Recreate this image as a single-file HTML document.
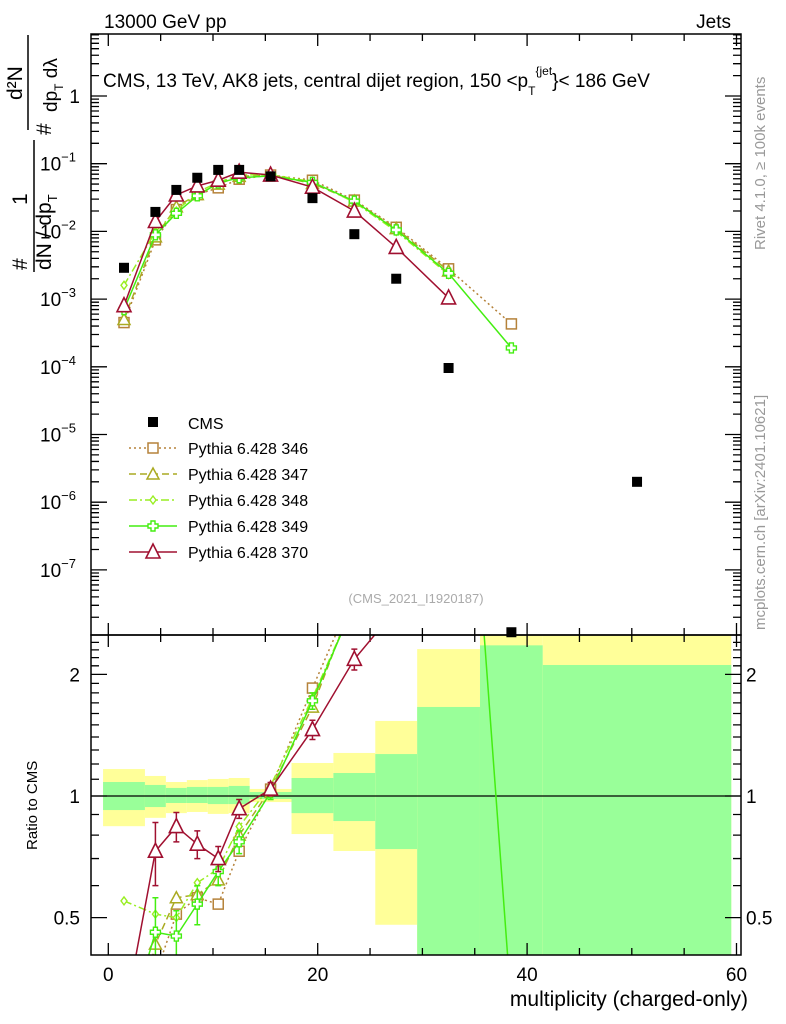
<!DOCTYPE html>
<html><head><meta charset="utf-8">
<style>
html,body{margin:0;padding:0;background:#fff;width:786px;height:1024px;overflow:hidden;}
svg{display:block;font-family:"Liberation Sans",sans-serif;overflow:hidden;}
</style></head>
<body>
<svg id="chart" width="786" height="1024" viewBox="0 0 786 1024" xmlns="http://www.w3.org/2000/svg">
  <defs>
    <clipPath id="clipMain"><rect x="91" y="34" width="650" height="601"/></clipPath>
    <clipPath id="clipRatio"><rect x="91" y="635" width="650" height="320"/></clipPath>
  </defs>
  <g id="bands" clip-path="url(#clipRatio)"></g>
  <g id="ticks"></g>
  <line x1="91" y1="796" x2="741" y2="796" stroke="#000" stroke-width="1.3"/>
  <g id="mainMarks"></g>
  <g id="ratioMarks" clip-path="url(#clipRatio)"></g>
  <rect x="91" y="34" width="650" height="601" fill="none" stroke="#000" stroke-width="1.5"/>
  <rect x="91" y="635" width="650" height="320" fill="none" stroke="#000" stroke-width="1.5"/>

  <text x="104" y="28" font-size="19">13000 GeV pp</text>
  <text x="731" y="28" font-size="19" text-anchor="end">Jets</text>
  <text x="103" y="87" font-size="19">CMS, 13 TeV, AK8 jets, central dijet region, 150 &lt;p<tspan font-size="12" dy="8">T</tspan><tspan font-size="12" dy="-20">{jet</tspan><tspan dy="12">}&lt; 186 GeV</tspan></text>
  <text x="416" y="603" font-size="13" fill="#aaa" text-anchor="middle">(CMS_2021_I1920187)</text>
  <text transform="translate(765,250) rotate(-90)" font-size="15" fill="#999">Rivet 4.1.0, ≥ 100k events</text>
  <text transform="translate(765,630) rotate(-90)" font-size="15" fill="#999">mcplots.cern.ch [arXiv:2401.10621]</text>

  <g font-size="21">
    <text transform="translate(27,270) rotate(-90)">#</text>
    <text transform="translate(27,205) rotate(-90)">1</text>
    <line x1="34" y1="272" x2="34" y2="140" stroke="#000" stroke-width="1.5"/>
    <text transform="translate(51,270) rotate(-90)">dN / dp<tspan font-size="13" dy="6">T</tspan></text>
    <text transform="translate(51,135) rotate(-90)">#</text>
    <text transform="translate(22,100) rotate(-90)">d²N</text>
    <line x1="28" y1="130" x2="28" y2="35" stroke="#000" stroke-width="1.5"/>
    <text transform="translate(57,112) rotate(-90)" font-size="19">dp<tspan font-size="12" dy="6">T</tspan><tspan dy="-6"> dλ</tspan></text>
  </g>
  <text transform="translate(37,850) rotate(-90)" font-size="15">Ratio to CMS</text>
  <text x="748" y="1006" font-size="21" text-anchor="end">multiplicity (charged-only)</text>

  <g id="legend"></g>
  <g id="labels"></g>
</svg>
<script>
// ---- data ----
const binCenters = [1.5, 4.5, 6.5, 8.5, 10.5, 12.5, 15.5, 19.5, 23.5, 27.5, 32.5, 38.5, 50.5];
const binEdges = [-0.5, 3.5, 5.5, 7.5, 9.5, 11.5, 13.5, 17.5, 21.5, 25.5, 29.5, 35.5, 41.5, 59.5];
const cmsValues = [2.9e-3, 0.0194, 0.041, 0.062, 0.081, 0.081, 0.065, 0.031, 0.0091, 0.0020, 9.6e-5, 1.2e-8, 2.0e-6];
const p346Values = [4.5e-4, 0.0075, 0.021, 0.035, 0.044, 0.059, 0.068, 0.057, 0.029, 0.0115, 0.0028, 4.3e-4, null];
const p347Values = [5.0e-4, 0.0083, 0.023, 0.035, 0.050, 0.065, 0.068, 0.051, 0.028, 0.011, 0.0026, null, null];
const p348Values = [1.6e-3, 0.0099, 0.020, 0.038, 0.053, 0.068, 0.069, 0.054, 0.027, 0.0100, 0.0023, null, null];
const p349Values = [7.0e-4, 0.0089, 0.0185, 0.0335, 0.052, 0.062, 0.066, 0.053, 0.028, 0.0105, 0.0024, 1.9e-4, null];
const p370Values = [8.0e-4, 0.014, 0.0345, 0.047, 0.057, 0.075, 0.068, 0.045, 0.020, 0.0058, 0.00104, null, null];
const r346 = [0.16, 0.36, 0.51, 0.56, 0.54, 0.73, 1.04, 1.85, 3.2, 5.7, 29, null, null];
const r347 = [0.2, 0.43, 0.56, 0.57, 0.62, 0.80, 1.04, 1.66, 3.1, 5.5, 27, null, null];
const r348 = [0.55, 0.51, 0.50, 0.61, 0.66, 0.84, 1.06, 1.75, 3.0, 5.0, 24, null, null];
const r349 = [0.25, 0.46, 0.45, 0.54, 0.65, 0.77, 1.02, 1.72, 3.0, 5.2, 40, 0.3, null];
const r370 = [0.28, 0.73, 0.84, 0.76, 0.70, 0.93, 1.04, 1.46, 2.18, 2.9, 10, null, null];
const rErr370 = [0.05, 0.13, 0.07, 0.06, 0.05, 0.05, 0.04, 0.08, 0.13, 0.2, 0.8, null, null];
const rErr349 = [0.05, 0.1, 0.07, 0.06, 0.05, 0.05, 0.04, 0.08, 0.1, 0.2, 1, null, null];
const yellowUp = [1.166, 1.121, 1.083, 1.095, 1.102, 1.108, 1.041, 1.207, 1.278, 1.534, 2.31, 3.0, 3.0];
const yellowDn = [0.842, 0.883, 0.907, 0.913, 0.903, 0.907, 0.966, 0.805, 0.731, 0.480, 0.2, 0.2, 0.2];
const greenUp = [1.083, 1.065, 1.047, 1.053, 1.053, 1.059, 1.023, 1.108, 1.140, 1.270, 1.661, 2.36, 2.11];
const greenDn = [0.923, 0.939, 0.961, 0.961, 0.955, 0.955, 0.983, 0.907, 0.867, 0.739, 0.2, 0.2, 0.2];
const seriesNames = ["Pythia 6.428 346", "Pythia 6.428 347", "Pythia 6.428 348", "Pythia 6.428 349", "Pythia 6.428 370"];
const xTickLabels = [0, 20, 40, 60];
const yDecades = [0, -1, -2, -3, -4, -5, -6, -7];
const ratioTickLabels = [0.5, 1, 2];

// ---- axes ----
const NS = "http://www.w3.org/2000/svg";
function X(v){ return 108.3 + 10.47 * v; }
function YM(v){ return 96 - 67.7 * Math.log10(v); }
function YR(r){ return 796 - 404 * Math.log10(r); }
function mk(parent, tag, attrs, text){
  const el = document.createElementNS(NS, tag);
  for (const k in attrs) el.setAttribute(k, attrs[k]);
  if (text !== undefined) el.textContent = text;
  parent.appendChild(el);
  return el;
}
const styles = [
  {c:"#b5823a", dash:"2,3", m:"square"},
  {c:"#aaaa22", dash:"7,4", m:"triangle"},
  {c:"#99ee22", dash:"8,3,2,3", m:"diamond"},
  {c:"#44ee11", dash:"", m:"cross"},
  {c:"#a01030", dash:"", m:"triangleBig"}
];
const mainSeries = [p346Values, p347Values, p348Values, p349Values, p370Values];
const ratioSeries = [r346, r347, r348, r349, r370];

function marker(g, type, x, y, c){
  let el;
  if (type === "square") el = mk(g, "rect", {x:x-5, y:y-5, width:10, height:10, fill:"#fff", stroke:c, "stroke-width":1.5});
  else if (type === "triangle") el = mk(g, "polygon", {points:`${x},${y-6} ${x-6},${y+5} ${x+6},${y+5}`, fill:"#fff", stroke:c, "stroke-width":1.5});
  else if (type === "triangleBig") el = mk(g, "polygon", {points:`${x},${y-8} ${x-7},${y+6} ${x+7},${y+6}`, fill:"#fff", stroke:c, "stroke-width":1.6});
  else if (type === "diamond") el = mk(g, "polygon", {points:`${x},${y-4} ${x-3},${y} ${x},${y+4} ${x+3},${y}`, fill:"#fff", stroke:c, "stroke-width":1.4});
  else el = mk(g, "path", {d:`M${x-2},${y-5}h4v3h3v4h-3v3h-4v-3h-3v-4h3z`, fill:"#fff", stroke:c, "stroke-width":1.4});
  
  
}

// ---- bands ----
const bands = document.getElementById("bands");
for (let i = 0; i < binCenters.length; i++){
  const x1 = X(binEdges[i]), x2 = X(binEdges[i+1]);
  const yb = mk(bands, "rect", {x:x1, y:YR(yellowUp[i]), width:x2-x1, height:YR(yellowDn[i])-YR(yellowUp[i]), fill:"#ffff99"});
  
  
  const gb = mk(bands, "rect", {x:x1, y:YR(greenUp[i]), width:x2-x1, height:YR(greenDn[i])-YR(greenUp[i]), fill:"#99ff99"});
  
  
}

// ---- main series ----
const mainG = document.getElementById("mainMarks");
mainSeries.forEach((vals, s) => {
  const st = styles[s];
  const g = mk(mainG, "g", {});
  
  
  let pts = [];
  binCenters.forEach((b, i) => { if (vals[i] !== null) pts.push([X(b), YM(vals[i])]); });
  const pl = mk(g, "polyline", {points:pts.map(p=>p.join(",")).join(" "), fill:"none", stroke:st.c, "stroke-width":1.5, "stroke-dasharray":st.dash});
  
  
  pts.forEach(p => marker(g, st.m, p[0], p[1], st.c));
});
const cmsG = mk(mainG, "g", {});


binCenters.forEach((b, i) => {
  const r = mk(cmsG, "rect", {x:X(b)-5, y:YM(cmsValues[i])-5, width:10, height:10, fill:"#000"});
  
  
});

// ---- ratio series ----
const ratioG = document.getElementById("ratioMarks");
ratioSeries.forEach((vals, s) => {
  const st = styles[s];
  const g = mk(ratioG, "g", {});
  
  
  let pts = [];
  binCenters.forEach((b, i) => { if (vals[i] !== null) pts.push([X(b), YR(vals[i]), i]); });
  const pl = mk(g, "polyline", {points:pts.map(p=>p[0]+","+p[1]).join(" "), fill:"none", stroke:st.c, "stroke-width":1.5, "stroke-dasharray":st.dash});
  
  
  const errs = s === 4 ? rErr370 : (s === 3 ? rErr349 : null);
  pts.forEach(p => {
    if (errs && errs[p[2]] !== null){
      const v = vals[p[2]], e = errs[p[2]];
      const eb = mk(g, "path", {d:`M${p[0]},${YR(v+e)}V${YR(Math.max(v-e,0.01))}M${p[0]-3},${YR(v+e)}h6M${p[0]-3},${YR(Math.max(v-e,0.01))}h6`, stroke:st.c, "stroke-width":1.5, fill:"none"});
      
      
    }
    marker(g, st.m, p[0], p[1], st.c);
  });
});

// ---- ticks ----
const tk = document.getElementById("ticks");
let d = "";
for (let v = 0; v <= 60; v += 5){
  const L = (v % 20 === 0) ? 12 : 7;
  const x = X(v);
  d += `M${x},34v${L}M${x},635v${-L}M${x},635v${L}M${x},955v${-L}`;
}
for (let e = 1; e >= -8; e--){
  for (let m = 1; m <= 9; m++){
    const v = m * Math.pow(10, e);
    const y = YM(v);
    if (y < 34 || y > 635) continue;
    const L = m === 1 ? 16 : 8;
    d += `M91,${y}h${L}M741,${y}h${-L}`;
  }
}
const rTicks = [0.5,0.6,0.7,0.8,0.9,1,1.1,1.2,1.3,1.4,1.5,1.6,1.7,1.8,1.9,2,2.1,2.2,2.3,2.4];
rTicks.forEach(r => {
  const y = YR(r);
  const L = (r === 0.5 || r === 1 || r === 2) ? 16 : 8;
  d += `M91,${y}h${L}M741,${y}h${-L}`;
});
const tp = mk(tk, "path", {d:d, stroke:"#000", "stroke-width":1.3, fill:"none"});



// ---- labels ----
const lab = document.getElementById("labels");
xTickLabels.forEach(v => {
  const t = mk(lab, "text", {x:X(v), y:981, "font-size":19, "text-anchor":"middle"}, String(v));
  
  
});
yDecades.forEach(e => {
  const y = YM(Math.pow(10, e));
  let t;
  if (e === 0) t = mk(lab, "text", {x:80, y:y+7, "font-size":19, "text-anchor":"end"}, "1");
  else {
    t = mk(lab, "text", {x:40, y:y+7, "font-size":19}, "10");
    const sp = mk(t, "tspan", {dy:-9, "font-size":13}, "\u2212" + (-e));
  }
  
  
});
ratioTickLabels.forEach(r => {
  const y = YR(r) + 7;
  const t1 = mk(lab, "text", {x:80, y:y, "font-size":19, "text-anchor":"end"}, String(r));
  
  
  const t2 = mk(lab, "text", {x:746, y:y, "font-size":19}, String(r));
  
  
});

// ---- legend ----
const lg = document.getElementById("legend");
const le0 = mk(lg, "g", {});


const cr = mk(le0, "rect", {x:148, y:417, width:10, height:10, fill:"#000"});


const ct = mk(le0, "text", {x:188, y:429, "font-size":16}, "CMS");


seriesNames.forEach((n, s) => {
  const y = 448 + s * 26;
  const st = styles[s];
  const g = mk(lg, "g", {});
  
  
  const ln = mk(g, "line", {x1:129, y1:y, x2:177, y2:y, stroke:st.c, "stroke-width":1.5, "stroke-dasharray":st.dash});
  
  
  marker(g, st.m, 153, y, st.c);
  const t = mk(g, "text", {x:188, y:y+6, "font-size":16}, n);
  
  
});
</script>
</body></html>
